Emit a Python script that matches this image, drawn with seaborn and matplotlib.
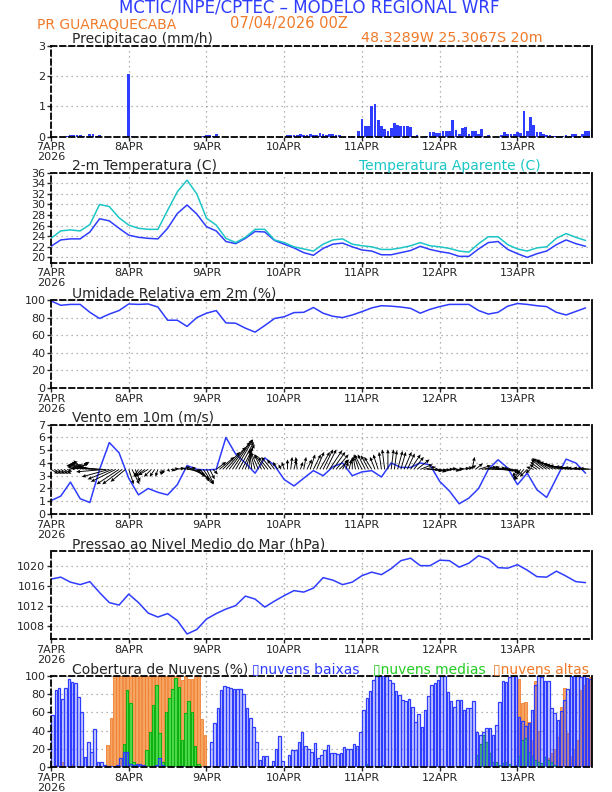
import numpy as np
import matplotlib
matplotlib.use("Agg")
import matplotlib.pyplot as plt
import seaborn as sns

BLUE = "#2e3cff"
CYAN = "#1cc6c6"
ORANGE = "#f07a2a"
GREEN = "#22cc22"

# hourly series (bars, arrows) and 3-hourly series (lines)
hours = np.arange(168)
hours3 = np.arange(0, 168, 3)

day_ticks = [0, 24, 48, 72, 96, 120, 144]
day_labels = ["7APR\n2026", "8APR", "9APR", "10APR", "11APR", "12APR", "13APR"]

precip = [
    0, 0, 0, 0, 0, 0.02, 0.05, 0.06, 0.05, 0.04, 0.03, 0, 0.08, 0.1, 0.03, 0.04, 0, 0, 0, 0, 0, 0, 0, 0,
    2.05, 0.02, 0, 0, 0, 0, 0, 0, 0, 0, 0, 0, 0, 0, 0, 0, 0, 0, 0.03, 0, 0, 0, 0, 0.03,
    0.05, 0.04, 0.03, 0.1, 0, 0, 0, 0, 0, 0, 0, 0, 0, 0, 0, 0, 0, 0, 0, 0, 0, 0, 0, 0,
    0, 0.04, 0.07, 0.05, 0.06, 0.09, 0.05, 0.07, 0.08, 0.05, 0.06, 0.12, 0.1, 0.07, 0.1, 0.08, 0.06, 0.04, 0, 0, 0.02, 0.02, 0, 0.18,
    0.58, 0.35, 0.35, 1.0, 1.08, 0.55, 0.35, 0.25, 0.18, 0.27, 0.45, 0.4, 0.35, 0.35, 0.35, 0.32, 0.03, 0.06, 0, 0, 0.02, 0.15, 0.15, 0.12,
    0.12, 0.2, 0.18, 0.2, 0.55, 0.22, 0.1, 0.3, 0.32, 0.1, 0.18, 0.18, 0.1, 0.25, 0.02, 0.04, 0, 0, 0, 0.07, 0.15, 0.1, 0.1, 0.1,
    0.15, 0.12, 0.85, 0.18, 0.65, 0.38, 0.16, 0.15, 0.1, 0.07, 0.05, 0.03, 0.02, 0.02, 0.02, 0.05, 0.02, 0.08, 0.08, 0.02, 0.1, 0.2, 0.2, 0.25,
]

temp = [22.1, 23.3, 23.5, 23.5, 24.8, 27.3, 26.9, 25.5, 24.2, 23.8, 23.6, 23.5, 25.5, 28.3, 29.9, 28.2,
        25.8, 25.0, 23.0, 22.6, 23.6, 24.9, 24.8, 23.2, 22.5, 21.8, 20.9, 20.4, 21.7, 22.5, 22.7, 22.0,
        21.4, 21.2, 20.5, 20.5, 20.9, 21.3, 22.1, 21.5, 21.1, 20.8, 20.2, 20.2, 21.6, 22.8, 23.0, 21.5,
        20.7, 20.0, 20.7, 21.2, 22.4, 23.3, 22.6, 22.1]

temp_apar = [23.6, 25.0, 25.2, 25.0, 26.2, 30.0, 29.6, 27.5, 26.1, 25.5, 25.3, 25.3, 28.9, 32.4, 34.6, 32.0,
             27.4, 26.1, 23.6, 22.8, 23.8, 25.3, 25.3, 23.3, 22.8, 22.0, 21.6, 21.2, 22.5, 23.3, 23.5, 22.5,
             22.2, 22.0, 21.5, 21.5, 21.8, 22.2, 22.8, 22.2, 22.0, 21.7, 21.2, 21.0, 22.6, 23.9, 23.9, 22.4,
             21.6, 21.2, 21.8, 22.0, 23.6, 24.5, 23.8, 23.2]

rh = [99, 94, 95, 95, 86, 79, 84, 88, 95.5, 95, 95.5, 92, 77, 77, 70, 80,
      85, 88, 74, 73.6, 68, 63.5, 71, 79, 81, 85.7, 86, 91.5, 85, 81.5, 80, 83,
      86.8, 91, 93.5, 93, 92, 90.5, 85, 89.4, 92.5, 95, 95, 95, 88, 84, 86, 93,
      96, 95, 93.5, 92.5, 86, 83, 87, 91]

wind_spd = [1.05, 1.4, 2.5, 1.2, 0.9, 3.5, 5.6, 4.8, 2.8, 1.5, 2.0, 1.7, 1.5, 2.3, 3.8, 3.5,
            3.45, 3.5, 6.0, 4.7, 4.0, 3.2, 4.4, 3.8, 2.7, 2.2, 2.8, 3.4, 3.0, 3.7, 4.0, 3.0,
            3.3, 3.4, 2.9, 4.0, 3.65, 3.65, 4.0, 3.85, 2.55, 1.8, 0.8, 1.25, 2.0, 3.5, 4.25, 3.6,
            2.3, 3.2, 1.9, 1.3, 2.8, 4.3, 4.0, 3.2]

wind_u = [
    1.5, 1.5, 1.5, 1.5, 1.5, 1.0, 2.5, 3.0, 2.5, 1.5, -2.0, -3.0, -4.0, -5.0, -6.0, -6.5, -6.5, -6.0, -5.5, -5.0, -5.0, -4.5, -4.0, -3.0,
    1.0, 1.5, 1.0, -1.0, -1.5, -2.0, -2.0, -1.5, -1.0, -0.5, 0.0, -0.5, 0.5, 1.0, 1.0, 1.5, 2.0, 2.5, 3.0, 3.0, 2.5, 2.5, 2.0, 2.0,
    1.5, 1.0, 1.0, 2.0, 3.0, 3.5, 4.0, 4.2, 4.0, 3.5, 3.0, 2.5, 1.5, 0.5, -0.5, -1.0, -1.5, -1.5, -2.0, -2.0, -2.0, -1.5, -1.0, -0.5,
    -0.5, 0.0, 0.3, 0.5, -0.3, 0.5, 0.5, 1.0, 1.0, 1.5, 1.5, 2.0, 2.0, 2.0, 2.5, 2.5, 2.5, 2.0, 1.0, 0.5, 0.5, 0.0, -0.5, -1.0,
    -1.5, -1.5, -1.5, -1.5, -1.0, -1.0, -0.5, -0.5, 0.0, 0.5, 0.5, 1.0, 1.0, 1.5, 1.5, 2.0, 2.0, 2.5, 2.5, 2.5, 2.5, 2.5, 2.0, 2.0,
    1.5, 1.5, 1.5, 1.5, 1.5, 1.5, 1.0, 1.5, 1.5, 1.5, 0.5, 1.5, 2.5, 3.0, 3.0, 3.5, 3.5, 3.5, 3.5, 3.5, 3.0, 2.5, 2.0, 1.0,
    -1.0, -1.5, -2.0, -1.5, -1.0, -1.5, -1.5, -2.0, -2.5, -3.0, -3.5, -3.5, -4.0, -4.0, -4.0, -4.0, -4.0, -3.5, -3.5, -3.0, -3.0, -2.5, -2.5, -2.5,
]
wind_v = [
    -0.9, -0.9, -0.9, -0.9, -0.9, -0.5, 1.0, 1.2, 1.5, 1.5, 1.8, 1.5, 1.2, 1.0, 0.8, 0.5, 0.2, -0.5, -1.5, -2.0, -2.5, -3.0, -3.0, -2.5,
    -3.0, -3.0, -2.5, -1.5, -1.5, -1.5, -1.2, -1.5, -1.5, -1.5, -1.2, -1.0, -0.5, -0.3, 0.2, 0.3, 0.5, 0.3, -0.3, -1.0, -1.5, -2.0, -2.5, -3.0,
    -3.0, -2.0, -1.0, 1.5, 2.5, 3.5, 4.5, 5.5, 6.0, 6.0, 5.5, 5.0, 4.5, 4.2, 4.0, 3.5, 3.5, 3.0, 3.0, 2.5, 2.5, 2.0, 1.5, 1.0,
    1.5, 2.0, 2.5, 2.0, 2.5, 1.5, 2.5, 2.0, 3.0, 3.0, 3.5, 3.5, 4.0, 4.0, 3.8, 3.5, 3.0, 2.0, 2.0, 1.5, 2.0, 2.5, 2.5, 3.0,
    3.0, 3.0, 2.8, 2.5, 2.5, 3.0, 3.5, 4.0, 4.0, 4.0, 3.8, 3.7, 3.5, 3.5, 3.2, 3.0, 2.5, 2.0, 1.0, 0.5, 0.0, -0.3, -0.3, -0.5,
    -0.3, -0.2, 0.0, 0.2, -0.3, 0.0, 0.2, 0.3, 0.5, 0.8, 2.5, 1.2, 0.8, 0.5, 0.5, 0.3, 0.2, 0.0, -0.2, -0.3, -0.5, -0.5, -0.8, -1.0,
    -1.5, -2.0, -2.2, -1.5, -0.8, 0.5, 1.0, 1.5, 2.0, 2.2, 2.2, 2.0, 1.8, 1.5, 1.2, 1.0, 0.8, 0.6, 0.5, 0.4, 0.3, 0.3, 0.2, 0.2,
]

pres = [1017.3, 1017.7, 1016.7, 1016.2, 1016.8, 1014.6, 1012.6, 1012.1, 1014.3, 1012.6, 1010.5, 1009.7, 1010.4, 1009.0, 1006.3, 1007.2,
        1009.3, 1010.4, 1011.3, 1012.0, 1013.9, 1013.3, 1011.7, 1012.9, 1014.0, 1015.0, 1014.7, 1015.5, 1017.6, 1017.1, 1016.2, 1016.7,
        1018.0, 1018.7, 1018.2, 1019.4, 1021.0, 1021.5, 1020.0, 1020.0, 1021.1, 1021.0, 1019.7, 1020.5, 1022.0, 1021.3, 1019.6, 1019.5,
        1020.2, 1019.1, 1017.8, 1017.7, 1018.9, 1017.9, 1016.8, 1016.6]

cloud_low = [
    57, 85, 87, 75, 87, 97, 93, 92, 77, 60, 11, 27, 16, 42, 6, 5, 2, 1, 1, 0, 2, 10, 16, 16,
    3, 2, 3, 3, 2, 0, 0, 1, 2, 10, 2, 0, 0, 0, 0, 0, 1, 0, 0, 0, 0, 0, 0, 1,
    0, 27, 48, 65, 85, 89, 88, 87, 86, 86, 86, 80, 65, 54, 44, 28, 8, 12, 12, 1, 7, 20, 34, 7,
    0, 13, 19, 19, 27, 39, 23, 20, 17, 26, 10, 13, 19, 24, 15, 15, 14, 15, 22, 20, 20, 25, 23, 39,
    63, 76, 84, 96, 100, 100, 100, 100, 96, 92, 83, 79, 74, 73, 75, 66, 49, 58, 44, 63, 78, 90, 92, 96,
    100, 100, 82, 72, 66, 74, 74, 63, 65, 65, 72, 39, 35, 39, 43, 43, 35, 46, 71, 95, 93, 99, 100, 100,
    55, 51, 45, 48, 63, 90, 100, 99, 94, 94, 65, 59, 52, 62, 74, 86, 100, 100, 100, 99, 100, 98, 97, 81,
]
cloud_mid = [
    0, 0, 0, 0, 0, 0, 0, 0, 0, 0, 0, 0, 0, 0, 0, 0, 0, 0, 0, 0, 0, 0, 25, 85,
    70, 5, 2, 2, 0, 19, 39, 68, 90, 37, 6, 60, 76, 86, 98, 88, 30, 59, 73, 60, 23, 3, 0, 0,
    0, 0, 0, 0, 0, 0, 0, 0, 0, 0, 0, 0, 0, 0, 0, 0, 0, 0, 0, 0, 0, 0, 0, 0,
    0, 0, 0, 0, 0, 0, 0, 0, 0, 0, 0, 0, 0, 0, 0, 0, 0, 0, 0, 0, 0, 0, 0, 0,
    0, 3, 0, 0, 0, 0, 2, 0, 0, 0, 0, 0, 0, 0, 0, 0, 0, 0, 0, 0, 0, 0, 0, 0,
    0, 0, 0, 0, 0, 0, 0, 0, 0, 0, 0, 13, 25, 35, 28, 15, 5, 5, 2, 4, 6, 3, 1, 2,
    12, 30, 32, 16, 12, 8, 6, 4, 11, 8, 5, 2, 0, 0, 0, 0, 0, 0, 0, 0, 0, 0, 0, 0,
]
cloud_high = [
    0, 2, 0, 5, 0, 0, 3, 0, 0, 0, 0, 0, 0, 0, 0, 0, 0, 24, 54, 100, 100, 100, 100, 100,
    100, 100, 100, 100, 100, 100, 100, 100, 100, 100, 100, 100, 100, 100, 100, 100, 96, 100, 97, 97, 100, 100, 53, 35,
    0, 0, 0, 0, 0, 0, 0, 0, 0, 0, 0, 0, 0, 0, 0, 0, 0, 0, 0, 0, 0, 0, 0, 0,
    0, 0, 0, 0, 0, 0, 0, 0, 0, 0, 0, 0, 0, 0, 0, 0, 0, 0, 0, 0, 0, 0, 0, 0,
    0, 0, 0, 0, 0, 0, 0, 0, 0, 0, 0, 0, 0, 0, 0, 0, 0, 0, 0, 0, 0, 0, 0, 0,
    0, 0, 0, 0, 0, 0, 0, 0, 0, 0, 0, 0, 0, 0, 0, 0, 0, 0, 0, 0, 0, 0, 0, 0,
    97, 70, 71, 50, 30, 95, 40, 0, 5, 10, 15, 20, 33, 66, 87, 37, 12, 20, 30, 85, 90, 98, 99, 85,
]

sns.set_style("white")
plt.rcParams["font.family"] = ["DejaVu Sans"]

W, H = 612, 792
fig = plt.figure(figsize=(6.12, 7.92), dpi=100)


def panel(top, bottom):
    return fig.add_axes([51 / W, 1 - bottom / H, (592 - 51) / W, (bottom - top) / H])


def style(ax, ylim, yticks):
    ax.set_xlim(0, 167)
    ax.set_ylim(*ylim)
    ax.set_yticks(yticks)
    ax.set_xticks(day_ticks)
    ax.set_xticklabels(day_labels, linespacing=1.0)
    ax.grid(True, color="#9a9a9a", linestyle=(0, (1, 3)), linewidth=0.9)
    ax.set_axisbelow(True)
    for side, sp in ax.spines.items():
        sp.set_visible(True)
        sp.set_color("black")
        sp.set_linewidth(1.3)
        if side != "right":
            sp.set_linestyle((0, (3, 2)))
    ax.tick_params(length=3, width=1, pad=1, labelsize=8, direction="out",
                   bottom=True, left=True)
    ax.set_xlabel("")
    ax.set_ylabel("")


def ftext(x, y, s, **kw):
    fig.text(x / W, 1 - y / H, s, va="baseline", **kw)


# header
ftext(309, 13, "MCTIC/INPE/CPTEC \u2013 MODELO REGIONAL WRF", color=BLUE, fontsize=12, ha="center")
ftext(37, 28, "PR GUARAQUECABA", color=ORANGE, fontsize=10)
ftext(230, 28, "07/04/2026 00Z", color=ORANGE, fontsize=10.5)

# precipitation
ax = panel(45.5, 136.7)
ax.bar(hours, precip, width=0.85, color=BLUE, linewidth=0)
style(ax, (0, 3), [0, 1, 2, 3])
ftext(72, 43.5, "Precipitacao (mm/h)", fontsize=10)
ftext(361, 42.5, "48.3289W 25.3067S 20m", color=ORANGE, fontsize=10.3)

# temperature
ax = panel(172.7, 262.7)
sns.lineplot(x=hours3, y=temp, ax=ax, color=BLUE, linewidth=1.1)
sns.lineplot(x=hours3, y=temp_apar, ax=ax, color=CYAN, linewidth=1.1)
style(ax, (19, 36), np.arange(20, 37, 2))
ftext(72, 170, "2-m Temperatura (C)", fontsize=10)
ftext(359, 170, "Temperatura Aparente (C)", color=CYAN, fontsize=10)

# relative humidity
ax = panel(300, 388)
sns.lineplot(x=hours3, y=rh, ax=ax, color=BLUE, linewidth=1.1)
style(ax, (0, 100), np.arange(0, 101, 20))
ftext(72, 297.5, "Umidade Relativa em 2m (%)", fontsize=10)

# wind: speed line plus hourly vectors drawn from a 3.5 m/s baseline
ax = panel(424.7, 514)
sns.lineplot(x=hours3, y=wind_spd, ax=ax, color=BLUE, linewidth=1.1)
ax.quiver(hours, np.full(len(hours), 3.5), wind_u, wind_v, angles="uv",
          scale_units="inches", scale=20, pivot="tail", width=0.0017,
          headwidth=4, headlength=4.5, headaxislength=4, color="black", zorder=3)
style(ax, (0, 7), np.arange(0, 8, 1))
ftext(72, 421.7, "Vento em 10m (m/s)", fontsize=10)

# pressure
ax = panel(550.7, 639)
sns.lineplot(x=hours3, y=pres, ax=ax, color=BLUE, linewidth=1.1)
style(ax, (1005.3, 1023), [1008, 1012, 1016, 1020])
ftext(72, 548.3, "Pressao ao Nivel Medio do Mar (hPa)", fontsize=10)

# cloud cover: high behind, then mid, then low with a light fill
ax = panel(676, 767)
ax.bar(hours + 0.5, cloud_high, width=0.85, facecolor="#f5a462",
       edgecolor="#f08030", linewidth=0.6)
ax.bar(hours + 0.5, cloud_mid, width=0.8, facecolor="#4fdc4f",
       edgecolor="#10b010", linewidth=0.8)
ax.bar(hours + 0.5, cloud_low, width=0.8, facecolor=(0.18, 0.24, 1.0, 0.22),
       edgecolor=BLUE, linewidth=0.9)
style(ax, (0, 100), np.arange(0, 101, 20))
ftext(72, 673.3, "Cobertura de Nuvens (%)", fontsize=10)
ftext(252, 673.3, "\u25afnuvens baixas", color=BLUE, fontsize=10)
ftext(373, 673.3, "\u25afnuvens medias", color=GREEN, fontsize=10)
ftext(493, 673.3, "\u25afnuvens altas", color=ORANGE, fontsize=10)

fig.savefig("out.png", dpi=100)
